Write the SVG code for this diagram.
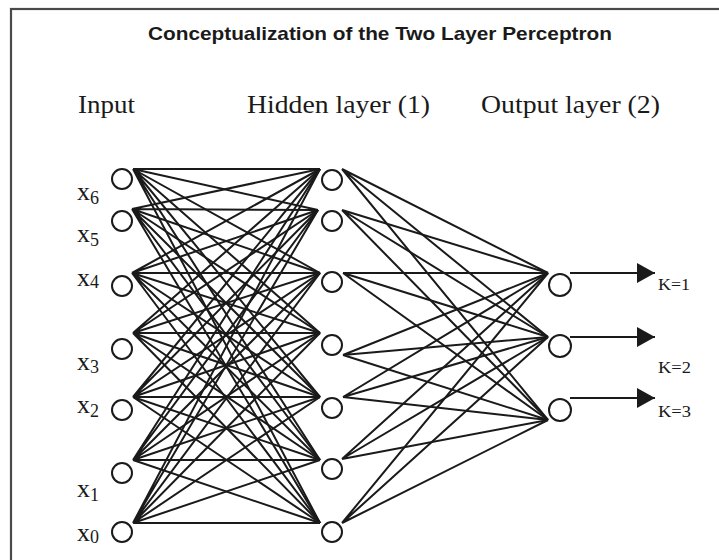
<svg xmlns="http://www.w3.org/2000/svg" width="719" height="560" viewBox="0 0 719 560">
  <style>
    .frame { fill: none; stroke: #4a4a4a; stroke-width: 2.2; }
    .title { font-family: "Liberation Sans", Arial, sans-serif; font-weight: bold; font-size: 19px; fill: #1a1a1a; }
    .layer { font-family: "Liberation Serif", "Times New Roman", serif; font-size: 26px; fill: #1a1a1a; }
    .var { font-family: "Liberation Serif", "Times New Roman", serif; font-size: 26px; fill: #1a1a1a; }
    .sub { font-size: 18px; }
    .klabel { font-family: "Liberation Serif", "Times New Roman", serif; font-size: 16px; fill: #1a1a1a; }
    .node { fill: #fff; stroke: #1a1a1a; stroke-width: 2; }
    .edge { stroke: #1a1a1a; stroke-width: 2; fill: none; }
    .out { stroke: #1a1a1a; stroke-width: 2; fill: none; marker-end: url(#tip); }
  </style>
  <defs>
    <marker id="tip" markerWidth="18" markerHeight="20" refX="18" refY="10" orient="auto" markerUnits="userSpaceOnUse" viewBox="0 0 18 20">
      <path d="M0,0 L18,10 L0,20 Z" fill="#1a1a1a"/>
    </marker>
  </defs>

  <rect class="frame" x="11" y="9" width="720" height="560"/>

  <text class="title" x="380" y="40" text-anchor="middle" textLength="464" lengthAdjust="spacingAndGlyphs">Conceptualization of the Two Layer Perceptron</text>

  <text class="layer" x="78" y="113" textLength="57" lengthAdjust="spacingAndGlyphs">Input</text>
  <text class="layer" x="247" y="113" textLength="183" lengthAdjust="spacingAndGlyphs">Hidden layer (1)</text>
  <text class="layer" x="481" y="113" textLength="179" lengthAdjust="spacingAndGlyphs">Output layer (2)</text>

  <g id="connectors">
    <!-- input layer to hidden layer: every input feeds every hidden unit -->
    <g id="input-hidden">
      <path class="edge" d="M133,169 L320,169 M133,169 L318,210 M133,169 L320,273 M133,169 L320,333 M133,169 L320,397 M133,169 L320,460 M133,169 L320,523"/>
      <path class="edge" d="M132,209 L320,169 M132,209 L318,210 M132,209 L320,273 M132,209 L320,333 M132,209 L320,397 M132,209 L320,460 M132,209 L320,523"/>
      <path class="edge" d="M132,273 L320,169 M132,273 L318,210 M132,273 L320,273 M132,273 L320,333 M132,273 L320,397 M132,273 L320,460 M132,273 L320,523"/>
      <path class="edge" d="M133,333 L320,169 M133,333 L318,210 M133,333 L320,273 M133,333 L320,333 M133,333 L320,397 M133,333 L320,460 M133,333 L320,523"/>
      <path class="edge" d="M133,397 L320,169 M133,397 L318,210 M133,397 L320,273 M133,397 L320,333 M133,397 L320,397 M133,397 L320,460 M133,397 L320,523"/>
      <path class="edge" d="M133,460 L320,169 M133,460 L318,210 M133,460 L320,273 M133,460 L320,333 M133,460 L320,397 M133,460 L320,460 M133,460 L320,523"/>
      <path class="edge" d="M133,523 L320,169 M133,523 L318,210 M133,523 L320,273 M133,523 L320,333 M133,523 L320,397 M133,523 L320,460 M133,523 L320,523"/>
    </g>
    <!-- hidden layer to output layer -->
    <g id="hidden-output">
      <path class="edge" d="M342,169 L548,273 M342,169 L548,337 M342,169 L548,420"/>
      <path class="edge" d="M342,210 L548,273 M342,210 L548,337 M342,210 L548,420"/>
      <path class="edge" d="M343,273 L548,273 M343,273 L548,337 M343,273 L548,420"/>
      <path class="edge" d="M343,355 L548,273 M343,355 L548,337 M343,355 L548,420"/>
      <path class="edge" d="M343,397 L548,273 M343,397 L548,337 M343,397 L548,420"/>
      <path class="edge" d="M342,459 L548,273 M342,459 L548,337 M342,459 L548,420"/>
      <path class="edge" d="M342,523 L548,273 M342,523 L548,337 M342,523 L548,420"/>
    </g>
    <!-- outputs -->
    <g id="output-arrows">
      <line class="out" x1="570" y1="273" x2="655" y2="273"/>
      <line class="out" x1="570" y1="337" x2="655" y2="337"/>
      <line class="out" x1="570" y1="398" x2="655" y2="398"/>
    </g>
  </g>

  <!-- input units -->
  <g id="x6"><circle class="node" cx="122" cy="179" r="10"/><text class="var" x="77" y="200">x<tspan class="sub" dy="4">6</tspan></text></g>
  <g id="x5"><circle class="node" cx="122" cy="221" r="10"/><text class="var" x="77" y="242">x<tspan class="sub" dy="4">5</tspan></text></g>
  <g id="x4"><circle class="node" cx="122" cy="286" r="10"/><text class="var" x="77" y="286">x<tspan class="sub" dy="2">4</tspan></text></g>
  <g id="x3"><circle class="node" cx="122" cy="349" r="10"/><text class="var" x="77" y="370">x<tspan class="sub" dy="3">3</tspan></text></g>
  <g id="x2"><circle class="node" cx="122" cy="410" r="10"/><text class="var" x="77" y="413">x<tspan class="sub" dy="4">2</tspan></text></g>
  <g id="x1"><circle class="node" cx="122" cy="473" r="10"/><text class="var" x="77" y="497">x<tspan class="sub" dy="4">1</tspan></text></g>
  <g id="x0"><circle class="node" cx="122" cy="532" r="10"/><text class="var" x="77" y="541">x<tspan class="sub" dy="2">0</tspan></text></g>

  <!-- hidden units -->
  <g id="h1"><circle class="node" cx="332" cy="180" r="10"/></g>
  <g id="h2"><circle class="node" cx="332" cy="221" r="10"/></g>
  <g id="h3"><circle class="node" cx="332" cy="282" r="10"/></g>
  <g id="h4"><circle class="node" cx="332" cy="345" r="10"/></g>
  <g id="h5"><circle class="node" cx="332" cy="408" r="10"/></g>
  <g id="h6"><circle class="node" cx="332" cy="469" r="10"/></g>
  <g id="h7"><circle class="node" cx="332" cy="532" r="10"/></g>

  <!-- output units -->
  <g id="o1"><circle class="node" cx="560" cy="285" r="11"/><text class="klabel" x="658" y="290" textLength="32" lengthAdjust="spacingAndGlyphs">K=1</text></g>
  <g id="o2"><circle class="node" cx="560" cy="346" r="11"/><text class="klabel" x="658" y="373" textLength="33" lengthAdjust="spacingAndGlyphs">K=2</text></g>
  <g id="o3"><circle class="node" cx="560" cy="410" r="11"/><text class="klabel" x="658" y="417" textLength="33" lengthAdjust="spacingAndGlyphs">K=3</text></g>
</svg>
